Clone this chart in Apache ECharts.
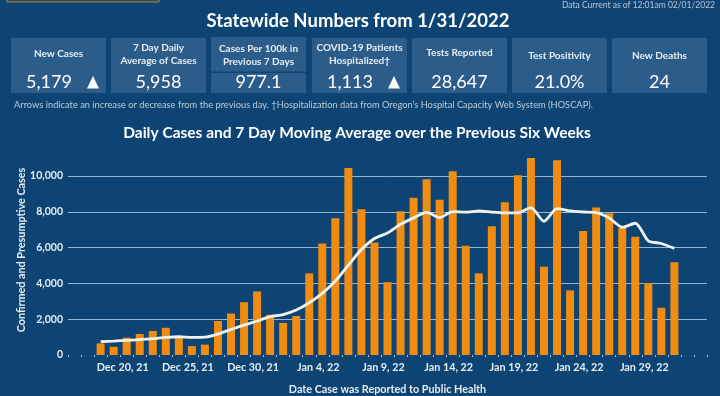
<!DOCTYPE html>
<html>
<head>
<meta charset="utf-8">
<script src="https://cdn.jsdelivr.net/npm/echarts@6/dist/echarts.min.js"></script>
<style>
  html, body { margin: 0; padding: 0; background: #0d4473; }
  #chart { width: 720px; height: 396px; }
</style>
</head>
<body>
<div id="chart"></div>
<script>
// days on the axis (Dec 16 .. Feb 2), bars only Dec 18 .. Jan 31
var days = [
  'Dec 16, 21', 'Dec 17, 21', 'Dec 18, 21', 'Dec 19, 21', 'Dec 20, 21', 'Dec 21, 21', 'Dec 22, 21',
  'Dec 23, 21', 'Dec 24, 21', 'Dec 25, 21', 'Dec 26, 21', 'Dec 27, 21', 'Dec 28, 21', 'Dec 29, 21',
  'Dec 30, 21', 'Dec 31, 21', 'Jan 1, 22', 'Jan 2, 22', 'Jan 3, 22', 'Jan 4, 22', 'Jan 5, 22',
  'Jan 6, 22', 'Jan 7, 22', 'Jan 8, 22', 'Jan 9, 22', 'Jan 10, 22', 'Jan 11, 22', 'Jan 12, 22',
  'Jan 13, 22', 'Jan 14, 22', 'Jan 15, 22', 'Jan 16, 22', 'Jan 17, 22', 'Jan 18, 22', 'Jan 19, 22',
  'Jan 20, 22', 'Jan 21, 22', 'Jan 22, 22', 'Jan 23, 22', 'Jan 24, 22', 'Jan 25, 22', 'Jan 26, 22',
  'Jan 27, 22', 'Jan 28, 22', 'Jan 29, 22', 'Jan 30, 22', 'Jan 31, 22', 'Feb 1, 22', 'Feb 2, 22'
];

// daily cases
var dailyCases = [
  null, null, 650, 460, 970, 1170, 1340,
  1520, 970, 500, 580, 1900, 2320, 2950,
  3550, 2250, 1790, 2180, 4560, 6230, 7640,
  10450, 8140, 6280, 4070, 8030, 8780, 9820,
  8680, 10260, 6100, 4560, 7190, 8530, 10040,
  11000, 4930, 10880, 3610, 6930, 8240, 7920,
  7100, 6600, 4020, 2640, 5179, null, null
];

// 7 day moving average
var movingAvg = [
  null, null, 745, 780, 820, 855, 910,
  985, 1020, 985, 1000, 1170, 1430, 1670,
  1900, 2140, 2260, 2510, 2920, 3440, 4130,
  5020, 5890, 6510, 6820, 7300, 7660, 7970,
  7680, 8010, 7980, 8050, 7980, 7940, 7940,
  8230, 7470, 8180, 8050, 7990, 7960, 7660,
  7140, 7360, 6380, 6230, 5958, null, null
];

// header tiles
var tileLabels = [
  'New Cases', '7 Day Daily\nAverage of Cases', 'Cases Per 100k in\nPrevious 7 Days',
  'COVID-19 Patients\nHospitalized\u2020', 'Tests Reported', 'Test Positivity', 'New Deaths'
];
var tileValues = ['5,179', '5,958', '977.1', '1,113', '28,647', '21.0%', '24'];
var tileArrows = [true, false, false, true, false, false, false];

var FONT = 'Lato, "Noto Sans", sans-serif';
var tileX = [11, 111, 211, 312, 412, 512, 612];
var tileW = 95;
var labelY = [54, 54.5, 55.5, 54.5, 53, 55.5, 55.5];

var graphics = [
  // cut-off element at very top left
  { type: 'rect', shape: { x: 7, y: -6, width: 152, height: 8 },
    style: { fill: '#3a4a4c', stroke: '#9c8c5c', lineWidth: 1 } },
  { type: 'text', right: 5, top: 1,
    style: { text: 'Data Current as of 12:01am 02/01/2022', fill: '#b9c6d2', font: '8.5px ' + FONT } },
  { type: 'text', x: 358, y: 21,
    style: { text: 'Statewide Numbers from 1/31/2022', fill: '#ffffff', font: 'bold 18.5px ' + FONT,
             textAlign: 'center', textVerticalAlign: 'middle' } },
  { type: 'text', x: 14, y: 105,
    style: { text: 'Arrows indicate an increase or decrease from the previous day. \u2020Hospitalization data from Oregon\u2019s Hospital Capacity Web System (HOSCAP).',
             fill: '#bfcbd6', font: '9.3px ' + FONT, textVerticalAlign: 'middle' } },
  { type: 'text', x: 357, y: 133,
    style: { text: 'Daily Cases and 7 Day Moving Average over the Previous Six Weeks', fill: '#ffffff',
             font: 'bold 15.5px ' + FONT, textAlign: 'center', textVerticalAlign: 'middle' } },
  // y axis title
  { type: 'text', x: 22, y: 250, rotation: Math.PI / 2,
    style: { text: 'Confirmed and Presumptive Cases', fill: '#e6edf3', font: 'bold 10.8px ' + FONT,
             textAlign: 'center', textVerticalAlign: 'middle' } }
];

tileX.forEach(function (x, i) {
  if (i === 2) {
    graphics.push({ type: 'rect', shape: { x: x, y: 37, width: tileW, height: 34.5 }, style: { fill: '#2c5d8a' } });
    graphics.push({ type: 'rect', shape: { x: x, y: 73, width: tileW, height: 20 }, style: { fill: '#2c5d8a' } });
  } else {
    graphics.push({ type: 'rect', shape: { x: x, y: 38, width: tileW, height: 55 }, style: { fill: '#2c5d8a' } });
  }
  graphics.push({ type: 'text', x: x + tileW / 2, y: labelY[i],
    style: { text: tileLabels[i], fill: '#e6edf3', font: 'bold 10px ' + FONT, lineHeight: 13,
             textAlign: 'center', textVerticalAlign: 'middle' } });
  var vx = tileArrows[i] ? x + 38 : x + tileW / 2;
  graphics.push({ type: 'text', x: vx, y: 82,
    style: { text: tileValues[i], fill: '#ffffff', font: '18px ' + FONT,
             textAlign: 'center', textVerticalAlign: 'middle' } });
  if (tileArrows[i]) {
    graphics.push({ type: 'polygon', shape: { points: [[x + 76, 88.5], [x + 88, 88.5], [x + 82, 76]] },
      style: { fill: '#ffffff' } });
  }
});

var chart = echarts.init(document.getElementById('chart'));
chart.setOption({
  backgroundColor: '#0d4473',
  animation: false,
  textStyle: { fontFamily: FONT },
  graphic: graphics,
  grid: { left: 68, right: 13, top: 176, bottom: 41 },
  xAxis: {
    type: 'category',
    data: days,
    boundaryGap: true,
    name: 'Date Case was Reported to Public Health',
    nameLocation: 'middle',
    nameGap: 29,
    nameTextStyle: { color: '#e6edf3', fontSize: 10.8, fontWeight: 'bold' },
    axisLine: { show: false },
    axisTick: { show: true, length: 2, interval: 0, lineStyle: { color: '#a9bfd3' } },
    axisLabel: {
      color: '#e6edf3', fontSize: 10.8, fontWeight: 'bold', margin: 7,
      padding: [0, 8, 0, 0],
      interval: function (i) { return i >= 4 && i <= 44 && (i - 4) % 5 === 0; }
    }
  },
  yAxis: {
    type: 'value',
    min: 0,
    max: 10000,
    interval: 2000,
    axisLine: { show: false },
    axisTick: { show: false },
    axisLabel: {
      color: '#e6edf3', fontSize: 10.5, fontWeight: 'bold', margin: 5,
      formatter: function (v) { return v.toLocaleString('en-US'); }
    },
    splitLine: { show: true, showMinLine: false, lineStyle: { color: 'rgba(185,210,232,0.8)', width: 1 } }
  },
  series: [
    {
      name: 'Daily Cases',
      type: 'bar',
      data: dailyCases,
      barWidth: 8,
      clip: false,
      itemStyle: { color: '#f08c12' }
    },
    {
      name: '7 Day Moving Average',
      type: 'line',
      data: movingAvg,
      clip: false,
      symbol: 'none',
      smooth: 0.25,
      lineStyle: { color: '#eef3f0', width: 2.8 }
    }
  ]
});
</script>
</body>
</html>
